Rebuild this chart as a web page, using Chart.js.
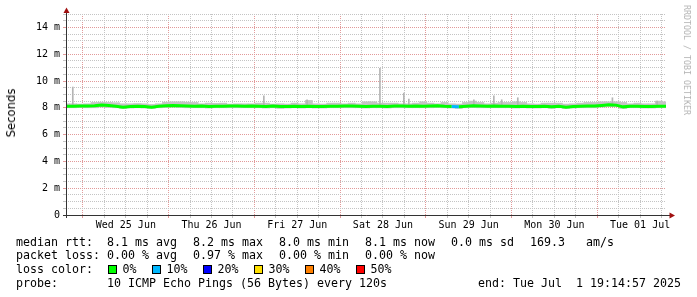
<!DOCTYPE html>
<html lang="en">
  <head>
    <meta charset="UTF-8" />
    <title>SmokePing - last 7 days</title>
    <style>
      body { margin: 0; background: #fff; }
      #wrap { position: relative; width: 697px; height: 297px; overflow: hidden; }
      #myChart { position: absolute; left: 0; top: 0; }
      .txt {
        position: absolute;
        font-family: "DejaVu Sans Mono", monospace;
        font-size: 11.63px;
        line-height: 14px;
        white-space: pre;
        color: #000;
      }
      .box { position: absolute; top: 265px; width: 7px; height: 7px; border: 1px solid #000; }
      #ylabel {
        position: absolute; left: 11px; top: 113px;
        transform: translate(-50%, -50%) rotate(-90deg);
        font-family: "DejaVu Sans", sans-serif; font-size: 11.6px; white-space: nowrap;
      }
      #credit {
        position: absolute; left: 687px; top: 60px;
        transform: translate(-50%, -50%) rotate(90deg);
        font-family: "DejaVu Sans Mono", monospace; font-size: 8.3px; color: #b4b4b4; white-space: nowrap;
      }
    </style>
  </head>
  <body>
    <div id="wrap">
      <canvas id="myChart" width="697" height="297"></canvas>
      <div id="ylabel">Seconds</div>
      <div id="credit">RRDTOOL / TOBI OETIKER</div>

      <span class="txt" style="left:16px;top:235px">median rtt:</span>
      <span class="txt" style="left:107px;top:235px">8.1 ms avg</span>
      <span class="txt" style="left:193px;top:235px">8.2 ms max</span>
      <span class="txt" style="left:279px;top:235px">8.0 ms min</span>
      <span class="txt" style="left:365px;top:235px">8.1 ms now</span>
      <span class="txt" style="left:451px;top:235px">0.0 ms sd</span>
      <span class="txt" style="left:530px;top:235px">169.3</span>
      <span class="txt" style="left:586px;top:235px">am/s</span>

      <span class="txt" style="left:16px;top:248px">packet loss:</span>
      <span class="txt" style="left:107px;top:248px">0.00 % avg</span>
      <span class="txt" style="left:193px;top:248px">0.97 % max</span>
      <span class="txt" style="left:279px;top:248px">0.00 % min</span>
      <span class="txt" style="left:365px;top:248px">0.00 % now</span>

      <span class="txt" style="left:16px;top:262px">loss color:</span>
      <div id="lossRow"></div>

      <span class="txt" style="left:16px;top:276px">probe:</span>
      <span class="txt" style="left:107px;top:276px">10 ICMP Echo Pings (56 Bytes) every 120s</span>
      <span class="txt" style="left:478px;top:276px">end: Tue Jul  1 19:14:57 2025</span>
    </div>

    <script src="https://cdn.jsdelivr.net/npm/chart.js"></script>
    <script>
      const dayLabels = ["Wed 25 Jun", "Thu 26 Jun", "Fri 27 Jun", "Sat 28 Jun", "Sun 29 Jun", "Mon 30 Jun", "Tue 01 Jul"];
      const lossLabels = ["0%", "10%", "20%", "30%", "40%", "50%"];
      const lossColors = ["#00ff00", "#00b8ff", "#0000ff", "#ffe000", "#ff8000", "#ff0000"];

      // one sample every 2 hours, window starts Tue 24 Jun 19:14:57
      const stepHours = 2;
      const medianMs = [
        8.12, 8.12, 8.14, 8.14, 8.15, 8.2, 8.17, 8.12, 8.04, 8.1,
        8.12, 8.1, 8.05, 8.12, 8.16, 8.18, 8.16, 8.14, 8.12, 8.14,
        8.1, 8.12, 8.12, 8.14, 8.14, 8.12, 8.14, 8.12, 8.1, 8.14,
        8.1, 8.1, 8.12, 8.1, 8.12, 8.1, 8.1, 8.12, 8.12, 8.14,
        8.14, 8.12, 8.1, 8.12, 8.12, 8.1, 8.14, 8.14, 8.12, 8.14,
        8.12, 8.14, 8.16, 8.12, 8.1, 8.08, 8.12, 8.16, 8.14, 8.12,
        8.14, 8.12, 8.12, 8.1, 8.12, 8.1, 8.1, 8.12, 8.07, 8.12,
        8.05, 8.1, 8.12, 8.14, 8.14, 8.18, 8.22, 8.2, 8.07, 8.12,
        8.12, 8.1, 8.1, 8.12, 8.12,
      ];
      const smokeLoMs = [
        8.0, 8.0, 8.02, 8.0, 8.0, 8.05, 8.02, 8.0, 7.95, 7.98,
        8.0, 7.98, 7.95, 8.0, 8.02, 8.05, 8.02, 8.0, 8.0, 8.0,
        7.98, 8.0, 8.0, 8.0, 8.0, 8.0, 8.0, 8.0, 7.98, 8.0,
        7.95, 7.98, 8.0, 7.98, 8.0, 7.98, 7.98, 8.0, 8.0, 8.0,
        8.0, 8.0, 7.98, 8.0, 8.0, 7.98, 8.0, 8.0, 8.0, 8.0,
        8.0, 8.0, 8.02, 8.0, 7.98, 7.95, 8.0, 8.02, 8.0, 8.0,
        8.0, 8.0, 8.0, 7.98, 8.0, 7.98, 7.98, 8.0, 7.95, 8.0,
        7.95, 7.98, 8.0, 8.0, 8.0, 8.05, 8.1, 8.08, 7.95, 8.0,
        8.0, 7.98, 7.98, 8.0, 8.0,
      ];
      const smokeHiMs = [
        8.3, 8.3, 8.28, 8.3, 8.4, 8.42, 8.4, 8.38, 8.3, 8.3,
        8.32, 8.3, 8.25, 8.3, 8.42, 8.45, 8.45, 8.42, 8.4, 8.3,
        8.35, 8.33, 8.35, 8.28, 8.3, 8.3, 8.3, 8.35, 8.35, 8.28,
        8.3, 8.28, 8.35, 8.3, 8.55, 8.3, 8.28, 8.35, 8.35, 8.3,
        8.35, 8.3, 8.45, 8.45, 8.35, 8.35, 8.35, 8.3, 8.3, 8.35,
        8.45, 8.35, 8.3, 8.4, 8.3, 8.28, 8.4, 8.5, 8.4, 8.3,
        8.35, 8.4, 8.4, 8.45, 8.4, 8.3, 8.28, 8.35, 8.35, 8.35,
        8.28, 8.3, 8.35, 8.4, 8.4, 8.45, 8.45, 8.45, 8.4, 8.3,
        8.35, 8.3, 8.3, 8.5, 8.45,
      ];
      // single-ping outliers
      const spikeHours = [1.9, 55.4, 67.5, 87.9, 94.6, 96.0, 114.2, 119.8, 122.0, 126.5, 153.0, 165.5];
      const spikeTopMs = [9.55, 8.9, 8.6, 10.95, 9.1, 8.65, 8.6, 8.9, 8.6, 8.75, 8.75, 8.5];
      // samples with packet loss
      const lossHours = [110];
      const lossPct = [10];
      const yTicks = [0, 0.5, 1, 1.5, 2, 2.5, 3, 3.5, 4, 4.5, 5, 5.5, 6, 6.5, 7, 7.5, 8, 8.5, 9, 9.5, 10, 10.5, 11, 11.5, 12, 12.5, 13, 13.5, 14, 14.5, 15];

      const firstMidnight = 4 + 45 / 60 + 3 / 3600;
      const tickHours = Array.from({ length: 28 }, (_, k) => firstMidnight + 6 * k);

      const majorGrid = "#e29a9a";
      const minorGrid = "#c4c4c4";

      // loss colour legend
      const lossRow = document.getElementById("lossRow");
      const boxLeft = [108, 152, 203, 254, 305, 356];
      lossLabels.forEach((lab, i) => {
        const b = document.createElement("div");
        b.className = "box";
        b.style.left = boxLeft[i] + "px";
        b.style.background = lossColors[i];
        lossRow.appendChild(b);
        const t = document.createElement("span");
        t.className = "txt";
        t.style.left = boxLeft[i] + 14.5 + "px";
        t.style.top = "262px";
        t.textContent = lab;
        lossRow.appendChild(t);
      });

      function lossColorAt(h) {
        const i = lossHours.indexOf(h);
        if (i < 0) return lossColors[0];
        return lossColors[Math.min(5, Math.ceil(lossPct[i] / 10))];
      }

      const axesPlugin = {
        id: "rrdAxes",
        afterDatasetsDraw(chart) {
          const { ctx, chartArea: a } = chart;
          ctx.save();
          ctx.strokeStyle = "#333";
          ctx.lineWidth = 1;
          ctx.beginPath();
          ctx.moveTo(66.5, a.bottom + 3);
          ctx.lineTo(66.5, 12);
          ctx.moveTo(63, a.bottom + 0.5);
          ctx.lineTo(670, a.bottom + 0.5);
          ctx.stroke();
          ctx.fillStyle = "#a01010";
          ctx.beginPath();
          ctx.moveTo(66.5, 7.5);
          ctx.lineTo(63.5, 13);
          ctx.lineTo(69.5, 13);
          ctx.closePath();
          ctx.fill();
          ctx.beginPath();
          ctx.moveTo(675, a.bottom + 0.5);
          ctx.lineTo(669.5, a.bottom - 2.5);
          ctx.lineTo(669.5, a.bottom + 3.5);
          ctx.closePath();
          ctx.fill();
          ctx.restore();
        },
      };

      new Chart("myChart", {
        type: "bar",
        data: {
          datasets: [
            {
              type: "line",
              data: medianMs.map((v, i) => ({ x: i * stepHours, y: v })),
              borderWidth: 3,
              pointRadius: 0,
              borderColor: lossColors[0],
              segment: { borderColor: (c) => lossColorAt(c.p1DataIndex * stepHours) },
              order: 0,
            },
            {
              data: medianMs.map((_, i) => ({ x: i * stepHours, y: [smokeLoMs[i], smokeHiMs[i]] })),
              backgroundColor: "#c4c4c4",
              barThickness: 7.2,
              grouped: false,
              order: 2,
            },
            {
              data: spikeHours.map((h, i) => ({ x: h, y: [8.1, spikeTopMs[i]] })),
              backgroundColor: "#b4b4b4",
              barThickness: 1,
              grouped: false,
              order: 1,
            },
          ],
        },
        options: {
          responsive: false,
          animation: false,
          layout: { padding: { left: 0, top: 14, right: 31, bottom: 62 } },
          plugins: { legend: { display: false }, tooltip: { enabled: false } },
          scales: {
            x: {
              type: "linear",
              min: 0,
              max: 168,
              offset: false,
              afterBuildTicks: (s) => { s.ticks = tickHours.map((v) => ({ value: v })); },
              afterFit: (s) => { s.height = 20; },
              border: { display: false, dash: [1, 1] },
              grid: {
                offset: false,
                color: (c) => (c.index % 4 === 0 ? majorGrid : minorGrid),
                tickColor: (c) => (c.index % 4 === 0 ? majorGrid : minorGrid),
                tickLength: 3,
              },
              ticks: {
                autoSkip: false,
                maxRotation: 0,
                padding: 1,
                color: "#000",
                font: { family: "DejaVu Sans Mono", size: 10 },
                callback: (v, i) => (i % 4 === 2 ? dayLabels[(i - 2) / 4] : ""),
              },
            },
            y: {
              min: 0,
              max: 15,
              afterBuildTicks: (s) => { s.ticks = yTicks.map((v) => ({ value: v })); },
              afterFit: (s) => { s.width = 66; },
              border: { display: false, dash: [1, 1] },
              grid: {
                color: (c) => (c.tick && c.tick.value % 2 === 0 ? majorGrid : minorGrid),
                tickColor: (c) => (c.tick && c.tick.value % 2 === 0 ? majorGrid : minorGrid),
                tickLength: 3,
              },
              ticks: {
                autoSkip: false,
                padding: 3,
                color: "#000",
                font: { family: "DejaVu Sans Mono", size: 10 },
                callback: (v) => (v === 0 ? "0" : v % 2 === 0 ? v + " m" : ""),
              },
            },
          },
        },
        plugins: [axesPlugin],
      });
    </script>
  </body>
</html>
